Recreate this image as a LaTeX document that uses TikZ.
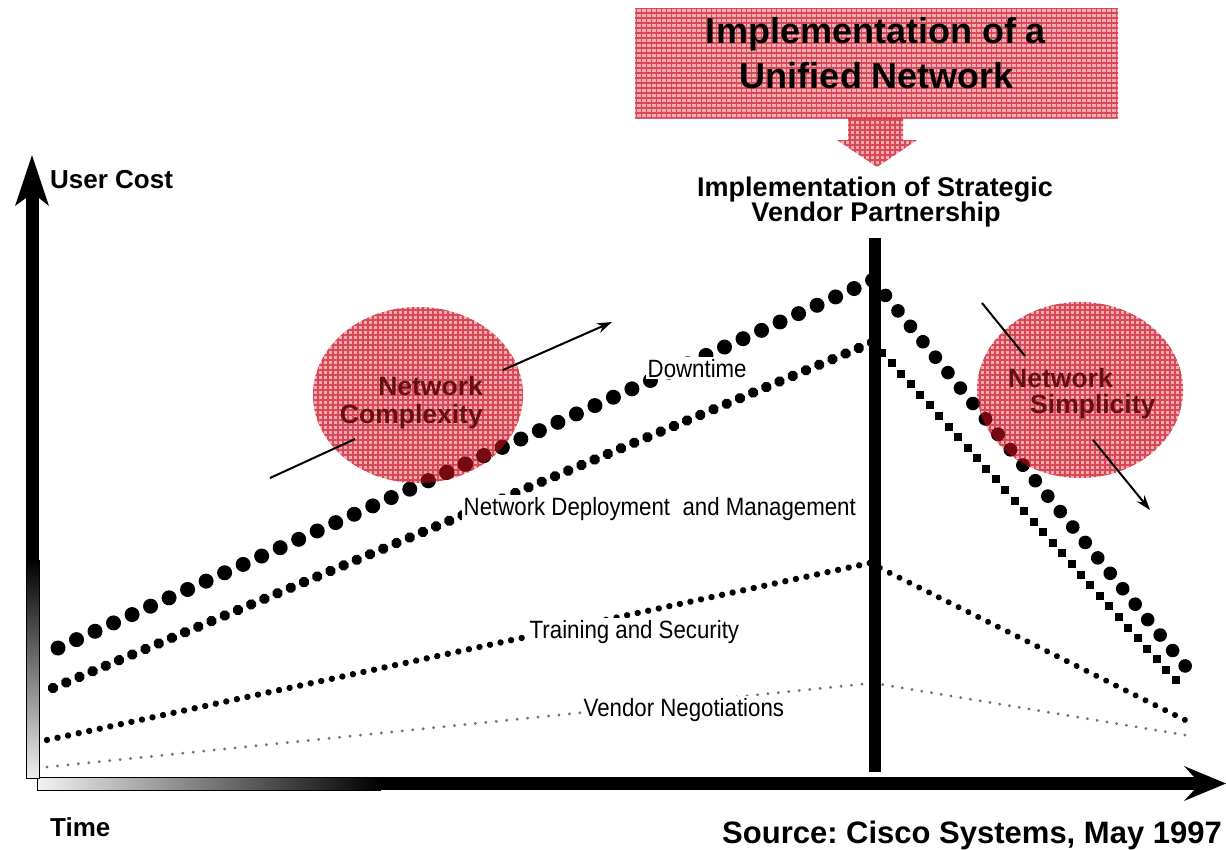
\documentclass[tikz,border=0pt]{standalone}
\usepackage{fontspec}
\setmainfont{Liberation Sans}
\newfontfamily\narrowfont[FakeStretch=0.89]{Liberation Sans}
\usetikzlibrary{shapes.geometric,arrows.meta,decorations.markings}
\definecolor{pinkbg}{RGB}{240,172,178}
\definecolor{gridred}{RGB}{208,40,55}
\definecolor{darkred}{RGB}{100,16,20}
\definecolor{dotred}{RGB}{120,8,18}
\colorlet{curdot}{black}
\tikzset{
  pinkfill/.style={fill=pinkbg, path picture={\draw[gridred, line width=1.1pt, opacity=0.75]
      ([xshift=-6pt,yshift=-6pt]path picture bounding box.south west) grid[step=5pt]
      ([xshift=6pt,yshift=6pt]path picture bounding box.north east);}},
  dotrow/.style n args={3}{decoration={markings, mark=between positions 0 and 1 step #1 with {\fill[#3] (0,0) circle (#2);}}, decorate},
  sqrow/.style 2 args={decoration={markings, mark=between positions 0 and 1 step #1 with {\pgftransformresetnontranslations\fill[#2] (-4pt,-4pt) rectangle (4pt,4pt);}}, decorate},
  boxtext/.style={font=\fontsize{36}{43}\selectfont\bfseries, inner sep=0pt, anchor=base},
  strattext/.style={font=\fontsize{27}{31}\selectfont\bfseries, inner sep=0pt, anchor=base},
  axtext/.style={font=\fontsize{26}{30}\selectfont\bfseries, inner sep=0pt, anchor=base west},
  elltext/.style={font=\fontsize{26.5}{30}\selectfont\bfseries, text=darkred, inner sep=0pt},
  chartlabel/.style={font=\narrowfont\fontsize{25}{30}\selectfont, fill=white, inner sep=1.5pt, anchor=base west},
  trendline/.style={line width=2pt},
  trendarrow/.style={line width=2pt, -{Stealth[length=15pt,width=10pt]}},
}
\newcommand\drawdotlines{%
  \path[dotrow={0.02272}{7.5pt}{curdot}] (A1) -- (P1);
  \path[dotrow={0.0399}{6.8pt}{curdot}] (P1) -- (B1);
  \path[dotrow={0.01612}{5.3pt}{curdot}] (A2) -- (P2);
  \path[sqrow={0.0303}{curdot}] (P2) -- (B2);
  \path[dotrow={0.012818}{3.2pt}{curdot}] (A3) -- (P3);
  \path[dotrow={0.03124}{3pt}{curdot}] (P3) -- (B3);
  \path[dotrow={0.012655}{1.6pt}{curdot!55}] (A4) -- (P4);
  \path[dotrow={0.03124}{1.6pt}{curdot!55}] (P4) -- (B4);
}
\begin{document}
\begin{tikzpicture}[x=1pt,y=-1pt]
\useasboundingbox (0,0) rectangle (1226,849);
\fill[white] (0,0) rectangle (1226,849);

% ---- axes ----
\shade[left color=gray!10, right color=black, draw=black, line width=0.8pt] (37,777) rectangle (380,790);
\fill[black] (379,777) rectangle (1194,790);
\fill[black] (1226,783.5) -- (1184,766) -- (1194,777) -- (1194,790) -- (1184,801) -- cycle;
\fill[black] (26,197) rectangle (39,561);
\shade[top color=black, bottom color=gray!12, draw=black, line width=0.8pt] (26,560) rectangle (39,778);
\fill[black] (32,155) -- (49,206) -- (39,198) -- (26,198) -- (15,206) -- cycle;

\node[axtext] (ucost) at (50,188) {User Cost};
\node[axtext] (time) at (50,836) {Time};

% ---- ellipses ----
\node[ellipse, pinkfill, minimum width=210pt, minimum height=176pt, inner sep=0pt] (cplx) at (418,395) {};
\node[ellipse, pinkfill, minimum width=206pt, minimum height=176pt, inner sep=0pt] (smpl) at (1080,390) {};

% ---- trend arrows ----
\coordinate (ca1) at (270,478);
\coordinate (cb1) at (355,439);
\coordinate (cb2) at (503,370);
\coordinate (ca2) at (612,322);
\coordinate (sa1) at (982,303);
\coordinate (sb1) at (1025,356);
\coordinate (sb2) at (1093,440);
\coordinate (sa2) at (1150,510);
\draw[trendline] (ca1) -- (cb1);
\draw[trendarrow] (cb2) -- (ca2);
\draw[trendline] (sa1) -- (sb1);
\draw[trendarrow] (sb2) -- (sa2);

% ---- cost curves ----
\coordinate (A1) at (58,648);  \coordinate (P1) at (873,280); \coordinate (B1) at (1186,667);
\coordinate (A2) at (53,688);  \coordinate (P2) at (873,342); \coordinate (B2) at (1185,691);
\coordinate (A3) at (47,740);  \coordinate (P3) at (870,563); \coordinate (B3) at (1185,720);
\coordinate (A4) at (47,767);  \coordinate (P4) at (873,683); \coordinate (B4) at (1185,735);

\drawdotlines
\begin{scope}
  \path[clip] (418,395) ellipse [x radius=105pt, y radius=88pt];
  \colorlet{curdot}{dotred}
  \drawdotlines
\end{scope}
\begin{scope}
  \path[clip] (1080,390) ellipse [x radius=103pt, y radius=88pt];
  \colorlet{curdot}{dotred}
  \drawdotlines
\end{scope}

% ---- vertical bar ----
\coordinate (bartop) at (875,238);
\coordinate (barbot) at (875,772);
\draw[line width=12pt] (bartop) -- (barbot);

% ---- curve labels ----
\node[chartlabel] (down) at (646,377) {Downtime};
\node[chartlabel] (deploy) at (462,515) {Network Deployment\hspace{0.25em} and Management};
\node[chartlabel] (train) at (528,638) {Training and Security};
\node[chartlabel] (vendor) at (582,716) {Vendor Negotiations};

% ---- ellipse texts ----
\node[elltext, anchor=base east] (cx1) at (483,395) {Network};
\node[elltext, anchor=base east] (cx2) at (483,423) {Complexity};
\node[elltext, anchor=base west] (sx1) at (1008,387) {Network};
\node[elltext, anchor=base west] (sx2) at (1030,413) {Simplicity};

% ---- top box and block arrow ----
\path[pinkfill] (848,115) -- (903,115) -- (903,140) -- (917,140) -- (877,167) -- (837,140) -- (848,140) -- cycle;
\node[pinkfill, minimum width=483pt, minimum height=110pt, inner sep=0pt] (unified) at (876.5,63) {};
\node[boxtext] (u1) at (876,43) {Implementation of a};
\node[boxtext] (u2) at (877,88) {Unified Network};

\node[strattext] (strat1) at (875,196) {Implementation of Strategic};
\node[strattext] (strat2) at (876,221) {Vendor Partnership};

% ---- source ----
\node[font=\fontsize{31}{36}\selectfont\bfseries, inner sep=0pt, anchor=base west] (src) at (722,843) {\frenchspacing Source: Cisco Systems, May 1997};
\end{tikzpicture}
\end{document}
